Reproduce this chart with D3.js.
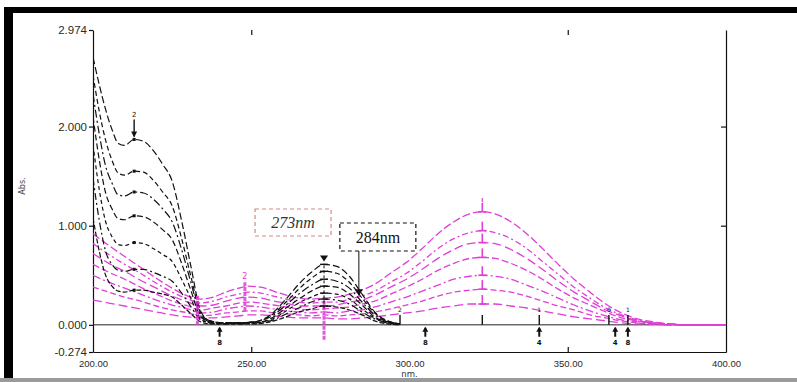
<!DOCTYPE html>
<html>
<head>
<meta charset="utf-8">
<script src="https://cdn.jsdelivr.net/npm/d3@7/dist/d3.min.js"></script>
<style>
  body { margin: 0; background: #fff; }
  svg { display: block; }
</style>
</head>
<body>
<div id="chart"></div>
<script>
// wavelengths (nm) sampled for the black family
const wlBlack = [200, 202, 204, 206, 208, 210, 213, 216, 219, 222, 225, 228, 231, 234, 237, 241, 246, 251, 256, 261, 265, 269, 273, 277, 281, 285, 289, 293, 297];
const black1 = [2.70, 2.42, 2.17, 1.97, 1.83, 1.81, 1.87, 1.85, 1.76, 1.62, 1.45, 1.05, 0.58, 0.14, 0.04, 0.02, 0.02, 0.03, 0.10, 0.26, 0.41, 0.53, 0.61, 0.59, 0.49, 0.31, 0.13, 0.04, 0.01];
const black2 = [2.52, 2.15, 1.86, 1.66, 1.53, 1.51, 1.55, 1.54, 1.46, 1.34, 1.20, 0.87, 0.48, 0.12, 0.04, 0.02, 0.02, 0.03, 0.09, 0.23, 0.36, 0.47, 0.54, 0.52, 0.43, 0.27, 0.12, 0.04, 0.01];
const black3 = [2.33, 1.92, 1.60, 1.43, 1.31, 1.30, 1.34, 1.33, 1.27, 1.17, 1.04, 0.76, 0.42, 0.10, 0.03, 0.02, 0.02, 0.03, 0.08, 0.20, 0.31, 0.40, 0.46, 0.44, 0.37, 0.23, 0.10, 0.03, 0.01];
const black4 = [2.10, 1.66, 1.33, 1.17, 1.07, 1.06, 1.10, 1.09, 1.04, 0.96, 0.86, 0.62, 0.34, 0.08, 0.03, 0.02, 0.02, 0.02, 0.06, 0.17, 0.26, 0.34, 0.39, 0.38, 0.31, 0.20, 0.08, 0.03, 0.01];
const black5 = [1.82, 1.36, 1.04, 0.89, 0.81, 0.80, 0.83, 0.82, 0.77, 0.71, 0.64, 0.46, 0.26, 0.06, 0.02, 0.01, 0.02, 0.02, 0.05, 0.14, 0.22, 0.28, 0.32, 0.31, 0.26, 0.16, 0.07, 0.02, 0.01];
const black6 = [1.48, 1.05, 0.74, 0.61, 0.55, 0.54, 0.56, 0.56, 0.53, 0.49, 0.44, 0.32, 0.18, 0.05, 0.02, 0.01, 0.01, 0.02, 0.04, 0.11, 0.17, 0.23, 0.26, 0.25, 0.21, 0.13, 0.06, 0.02, 0.00];
const black7 = [1.08, 0.74, 0.50, 0.39, 0.34, 0.33, 0.35, 0.35, 0.33, 0.31, 0.28, 0.20, 0.11, 0.03, 0.01, 0.01, 0.01, 0.01, 0.03, 0.08, 0.13, 0.16, 0.19, 0.18, 0.15, 0.10, 0.04, 0.01, 0.00];

// wavelengths (nm) sampled for the magenta family
const wlMagenta = [200, 205, 210, 215, 220, 225, 230, 234, 238, 242, 246, 249, 253, 257, 261, 265, 269, 273, 277, 281, 285, 289, 294, 299, 304, 309, 314, 319, 323, 327, 332, 337, 342, 347, 352, 357, 362, 367, 372, 377, 382, 387, 393, 400];
const magenta1 = [0.92, 0.80, 0.69, 0.58, 0.47, 0.37, 0.29, 0.26, 0.28, 0.33, 0.37, 0.39, 0.38, 0.34, 0.30, 0.27, 0.26, 0.27, 0.28, 0.31, 0.35, 0.41, 0.52, 0.63, 0.77, 0.92, 1.04, 1.12, 1.14, 1.12, 1.04, 0.92, 0.77, 0.61, 0.46, 0.33, 0.21, 0.12, 0.06, 0.03, 0.01, 0.00, 0.00, 0.00];
const magenta2 = [0.82, 0.71, 0.61, 0.52, 0.42, 0.33, 0.26, 0.22, 0.24, 0.28, 0.31, 0.33, 0.32, 0.29, 0.26, 0.23, 0.22, 0.23, 0.23, 0.26, 0.29, 0.34, 0.43, 0.52, 0.64, 0.77, 0.87, 0.93, 0.95, 0.93, 0.87, 0.77, 0.64, 0.51, 0.38, 0.27, 0.17, 0.10, 0.05, 0.02, 0.01, 0.00, 0.00, 0.00];
const magenta3 = [0.72, 0.62, 0.54, 0.45, 0.37, 0.29, 0.23, 0.19, 0.20, 0.24, 0.27, 0.28, 0.27, 0.24, 0.22, 0.19, 0.19, 0.19, 0.20, 0.23, 0.25, 0.30, 0.38, 0.46, 0.56, 0.67, 0.76, 0.82, 0.83, 0.82, 0.76, 0.67, 0.56, 0.44, 0.33, 0.24, 0.15, 0.09, 0.04, 0.02, 0.01, 0.00, 0.00, 0.00];
const magenta4 = [0.61, 0.53, 0.46, 0.38, 0.31, 0.24, 0.19, 0.15, 0.17, 0.19, 0.22, 0.23, 0.22, 0.20, 0.18, 0.16, 0.15, 0.16, 0.17, 0.18, 0.21, 0.24, 0.31, 0.38, 0.46, 0.55, 0.62, 0.67, 0.68, 0.67, 0.62, 0.55, 0.46, 0.36, 0.27, 0.20, 0.13, 0.07, 0.04, 0.02, 0.01, 0.00, 0.00, 0.00];
const magenta5 = [0.50, 0.43, 0.37, 0.31, 0.25, 0.20, 0.16, 0.12, 0.13, 0.16, 0.18, 0.19, 0.18, 0.16, 0.14, 0.13, 0.12, 0.13, 0.12, 0.14, 0.15, 0.18, 0.23, 0.28, 0.34, 0.40, 0.46, 0.49, 0.50, 0.49, 0.46, 0.40, 0.34, 0.27, 0.20, 0.14, 0.09, 0.05, 0.03, 0.01, 0.00, 0.00, 0.00, 0.00];
const magenta6 = [0.38, 0.33, 0.28, 0.24, 0.19, 0.15, 0.12, 0.09, 0.10, 0.12, 0.13, 0.14, 0.14, 0.12, 0.11, 0.10, 0.09, 0.10, 0.09, 0.10, 0.11, 0.13, 0.16, 0.20, 0.24, 0.29, 0.33, 0.35, 0.36, 0.35, 0.33, 0.29, 0.24, 0.19, 0.15, 0.10, 0.07, 0.04, 0.02, 0.01, 0.00, 0.00, 0.00, 0.00];
const magenta7 = [0.25, 0.22, 0.19, 0.16, 0.13, 0.10, 0.08, 0.07, 0.07, 0.08, 0.09, 0.10, 0.10, 0.09, 0.08, 0.07, 0.07, 0.07, 0.06, 0.06, 0.07, 0.08, 0.10, 0.12, 0.14, 0.17, 0.19, 0.21, 0.21, 0.21, 0.19, 0.17, 0.14, 0.11, 0.08, 0.06, 0.04, 0.02, 0.01, 0.01, 0.00, 0.00, 0.00, 0.00];

const xTicks = [200, 250, 300, 350, 400];
const yTicks = [-0.274, 0, 1, 2, 2.974];
const minorX = [250, 350];

// marks drawn on the traces (nm positions)
const belowArrows = [240, 305, 341, 365, 369];
const belowLabels = ["8", "8", "4", "4", "8"];
const aboveTicks = [297, 323, 341, 363, 369];
const aboveLabels = ["2", "", "1", "0", "1"];

const blackSeries = [black1, black2, black3, black4, black5, black6, black7];
const magentaSeries = [magenta1, magenta2, magenta3, magenta4, magenta5, magenta6, magenta7];

const W = 797, H = 382;
const plotLeft = 93, plotRight = 726, plotTop = 30, plotBottom = 352;
const MAG = "#e03ed8";
const blackDash = ["7,3", "5,3", "8,3,2,3", "6,3", "4,3", "7,3,2,3", "5,2"];
const magDash = ["8,3", "6,3,2,3", "9,4", "7,3", "8,3,2,3", "6,3", "9,4"];

const svg = d3.select("#chart").append("svg")
  .attr("width", W).attr("height", H)
  .style("font-family", "'DejaVu Sans', sans-serif");

// picture frame
svg.append("rect").attr("x", 4).attr("y", 7).attr("width", W - 4).attr("height", 6).attr("fill", "#000");
svg.append("rect").attr("x", 4).attr("y", 7).attr("width", 9).attr("height", H - 7).attr("fill", "#000");
svg.append("rect").attr("x", 0).attr("y", H - 4).attr("width", W).attr("height", 4).attr("fill", "#9a9a9a");

const x = d3.scaleLinear().domain([200, 400]).range([plotLeft, plotRight]);
const y = d3.scaleLinear().domain([-0.274, 2.974]).range([plotBottom, plotTop]);

svg.append("defs").append("clipPath").attr("id", "plot")
  .append("rect").attr("x", plotLeft).attr("y", plotTop)
  .attr("width", plotRight - plotLeft).attr("height", plotBottom - plotTop);

// axes
const leftAxis = svg.append("g")
  .attr("transform", `translate(${plotLeft},0)`)
  .call(d3.axisLeft(y).tickValues(yTicks).tickSize(4).tickSizeOuter(0).tickPadding(2)
    .tickFormat(d => d.toFixed(3)));
leftAxis.selectAll("text").style("font-size", "11.5px").attr("fill", "#2a2a2a");

svg.append("g")
  .attr("transform", `translate(${plotRight},0)`)
  .call(d3.axisLeft(y).tickValues([1, 2]).tickSize(5).tickSizeOuter(0).tickFormat(""));

const bottomAxis = svg.append("g")
  .attr("transform", `translate(0,${plotBottom})`)
  .call(d3.axisBottom(x).tickValues(xTicks).tickSize(0).tickSizeOuter(0).tickPadding(8)
    .tickFormat(d => d.toFixed(2)));
bottomAxis.selectAll("text").style("font-size", "9.5px").attr("fill", "#2a2a2a");

svg.append("g")
  .attr("transform", `translate(0,${plotBottom})`)
  .call(d3.axisTop(x).tickValues(minorX).tickSize(5).tickFormat(""))
  .select(".domain").remove();
svg.append("g")
  .attr("transform", `translate(0,${plotTop})`)
  .call(d3.axisBottom(x).tickValues(minorX).tickSize(5).tickFormat(""))
  .select(".domain").remove();

svg.selectAll(".domain, .tick line").attr("stroke", "#111").attr("stroke-width", 1.2);

// zero line
svg.append("line")
  .attr("x1", plotLeft).attr("x2", plotRight).attr("y1", y(0)).attr("y2", y(0))
  .attr("stroke", "#222").attr("stroke-width", 1);

svg.append("text")
  .attr("transform", "translate(25,186) rotate(-90)")
  .attr("text-anchor", "middle").style("font-size", "8px").attr("fill", "#444")
  .text("Abs.");
svg.append("text")
  .attr("x", x(300)).attr("y", 377).attr("text-anchor", "middle")
  .style("font-size", "8.5px").attr("fill", "#333").text("nm.");

// traces
const line = d3.line().x(d => x(d[0])).y(d => y(d[1])).curve(d3.curveMonotoneX);
const traces = svg.append("g").attr("clip-path", "url(#plot)");

magentaSeries.forEach((vals, i) => {
  traces.append("path")
    .datum(wlMagenta.map((w, j) => [w, vals[j]]))
    .attr("d", line).attr("fill", "none")
    .attr("stroke", MAG).attr("stroke-width", 1.3)
    .attr("stroke-dasharray", magDash[i]);
});
blackSeries.forEach((vals, i) => {
  traces.append("path")
    .datum(wlBlack.map((w, j) => [w, vals[j]]))
    .attr("d", line).attr("fill", "none")
    .attr("stroke", "#111").attr("stroke-width", 1.2)
    .attr("stroke-dasharray", blackDash[i]);
});

// peak marks on the magenta band at 323 nm
const marks = svg.append("g");
magentaSeries.forEach(vals => {
  const v = vals[wlMagenta.indexOf(323)];
  marks.append("line").attr("x1", x(323)).attr("x2", x(323)).attr("y1", y(v) - 9).attr("y2", y(v))
    .attr("stroke", MAG).attr("stroke-width", 1.6);
  marks.append("line").attr("x1", x(323) - 4).attr("x2", x(323) + 4).attr("y1", y(v)).attr("y2", y(v))
    .attr("stroke", MAG).attr("stroke-width", 1.6);
});
marks.append("line").attr("x1", x(323)).attr("x2", x(323)).attr("y1", y(1.28)).attr("y2", y(1.24))
  .attr("stroke", MAG).attr("stroke-width", 1.2);

// magenta marker stacks at 233, 248 and 273 nm
[[233, 0.0, 0.3], [248, 0.14, 0.43], [273, -0.15, 0.28]].forEach(([nm, a, b]) => {
  marks.append("line").attr("x1", x(nm)).attr("x2", x(nm)).attr("y1", y(a)).attr("y2", y(b))
    .attr("stroke", MAG).attr("stroke-width", 3).attr("stroke-dasharray", "4,1").attr("opacity", 0.85);
});
marks.append("text").attr("x", x(248)).attr("y", y(0.46)).attr("text-anchor", "middle")
  .style("font-size", "8px").attr("fill", MAG).text("2");

// black marks on the shoulder (213 nm) and on the 273 nm band
blackSeries.forEach(vals => {
  const v1 = vals[wlBlack.indexOf(213)];
  marks.append("rect").attr("x", x(213) - 1.5).attr("y", y(v1) - 1.5).attr("width", 3).attr("height", 3).attr("fill", "#111");
  const v2 = vals[wlBlack.indexOf(273)];
  marks.append("line").attr("x1", x(273) - 4).attr("x2", x(273) + 4).attr("y1", y(v2)).attr("y2", y(v2))
    .attr("stroke", "#111").attr("stroke-width", 1.4);
});
marks.append("line").attr("x1", x(273)).attr("x2", x(273)).attr("y1", y(0.6)).attr("y2", y(0.15))
  .attr("stroke", "#111").attr("stroke-width", 1).attr("stroke-dasharray", "3,2");
marks.append("path")
  .attr("d", `M${x(273) - 4},${y(0.7)} L${x(273) + 4},${y(0.7)} L${x(273)},${y(0.64)} Z`).attr("fill", "#111");

marks.append("line").attr("x1", x(213)).attr("x2", x(213)).attr("y1", y(2.07)).attr("y2", y(1.9))
  .attr("stroke", "#111").attr("stroke-width", 1.4);
marks.append("path")
  .attr("d", `M${x(213) - 3},${y(1.95)} L${x(213) + 3},${y(1.95)} L${x(213)},${y(1.89)} Z`).attr("fill", "#111");
marks.append("text").attr("x", x(213)).attr("y", y(2.1)).attr("text-anchor", "middle")
  .style("font-size", "7px").attr("fill", "#111").text("2");

// arrows under the zero line
belowArrows.forEach((nm, i) => {
  marks.append("line").attr("x1", x(nm)).attr("x2", x(nm)).attr("y1", y(-0.03)).attr("y2", y(-0.12))
    .attr("stroke", "#111").attr("stroke-width", 2);
  marks.append("path")
    .attr("d", `M${x(nm) - 3},${y(-0.07)} L${x(nm) + 3},${y(-0.07)} L${x(nm)},${y(-0.02)} Z`).attr("fill", "#111");
  marks.append("text").attr("x", x(nm)).attr("y", y(-0.2)).attr("text-anchor", "middle")
    .style("font-size", "7px").style("font-weight", "bold").attr("fill", "#111").text(belowLabels[i]);
});
// small ticks above the zero line
aboveTicks.forEach((nm, i) => {
  marks.append("line").attr("x1", x(nm)).attr("x2", x(nm)).attr("y1", y(0.1)).attr("y2", y(0.0))
    .attr("stroke", "#111").attr("stroke-width", 1.4);
  marks.append("text").attr("x", x(nm)).attr("y", y(0.13)).attr("text-anchor", "middle")
    .style("font-size", "6px").attr("fill", "#111").text(aboveLabels[i]);
});

// 273 nm / 284 nm callouts
const serif = "'Liberation Serif', 'DejaVu Serif', serif";
svg.append("rect").attr("x", x(273) - 69).attr("y", 209).attr("width", 76).attr("height", 27)
  .attr("fill", "#fff").attr("stroke", "#d08a84").attr("stroke-width", 1.2).attr("stroke-dasharray", "4,3");
svg.append("text").attr("x", x(273) - 31).attr("y", 228).attr("text-anchor", "middle")
  .style("font-family", serif).style("font-size", "16px").style("font-style", "italic")
  .attr("fill", "#333").text("273nm");

svg.append("rect").attr("x", x(284) - 19).attr("y", 223).attr("width", 76).attr("height", 28)
  .attr("fill", "#fff").attr("stroke", "#111").attr("stroke-width", 1.2).attr("stroke-dasharray", "4,3");
svg.append("text").attr("x", x(284) + 19).attr("y", 243).attr("text-anchor", "middle")
  .style("font-family", serif).style("font-size", "16px")
  .attr("fill", "#111").text("284nm");
svg.append("line").attr("x1", x(284)).attr("x2", x(284)).attr("y1", 251).attr("y2", y(0.33))
  .attr("stroke", "#111").attr("stroke-width", 1);
svg.append("path")
  .attr("d", `M${x(284) - 4},${y(0.36)} L${x(284) + 4},${y(0.36)} L${x(284)},${y(0.29)} Z`).attr("fill", "#111");
</script>
</body>
</html>
